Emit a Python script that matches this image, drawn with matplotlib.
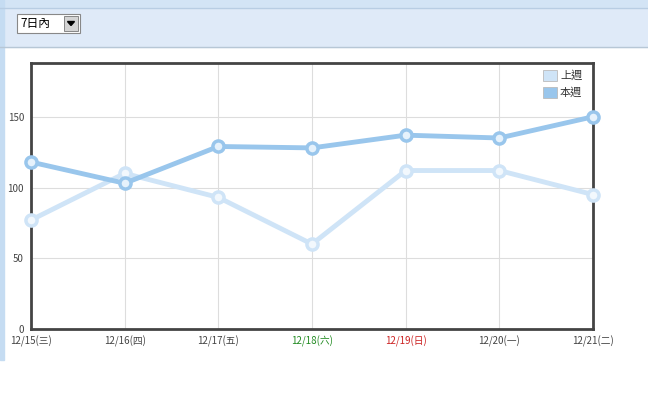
import matplotlib
matplotlib.use("Agg")
import matplotlib.pyplot as plt
from matplotlib.patches import Rectangle, Polygon
from matplotlib.lines import Line2D

plt.rcParams['font.family'] = ['Noto Sans CJK TC', 'DejaVu Sans']

categories = ['12/15(三)', '12/16(四)', '12/17(五)', '12/18(六)', '12/19(日)', '12/20(一)', '12/21(二)']
last_week = [77, 110, 93, 60, 112, 112, 95]
this_week = [118, 103, 129, 128, 137, 135, 150]
series_names = ['上週', '本週']
yticks = [0, 50, 100, 150]
label_colors = ['#444444', '#444444', '#444444', '#228B22', '#cc2222', '#444444', '#444444']

W, H = 648, 400
fig = plt.figure(figsize=(W / 100, H / 100), dpi=100)
fig.patch.set_facecolor('white')

def fx(px):
    return px / W

def fy(py):
    return 1 - py / H

# page decoration
fig.patches.append(Rectangle((0, fy(8)), 1, 8 / H, transform=fig.transFigure, color='#d3e4f5', zorder=0))
fig.patches.append(Rectangle((0, fy(47)), 1, 39 / H, transform=fig.transFigure, color='#dfeaf8', zorder=0))
fig.lines.append(Line2D([0, 1], [fy(8), fy(8)], transform=fig.transFigure, color='#b8cde3', lw=1))
fig.lines.append(Line2D([0, 1], [fy(47), fy(47)], transform=fig.transFigure, color='#b7c7d6', lw=1))
fig.patches.append(Rectangle((0, fy(360)), 4 / W, 360 / H, transform=fig.transFigure, color='#c5dcf2', zorder=1))

# dropdown
fig.patches.append(Rectangle((fx(17), fy(33)), 63 / W, 19 / H, transform=fig.transFigure,
                             facecolor='white', edgecolor='#888888', lw=0.8, zorder=2))
fig.patches.append(Rectangle((fx(64), fy(31)), 14 / W, 15 / H, transform=fig.transFigure,
                             facecolor='#d4d4d4', edgecolor='#777777', lw=0.6, zorder=3))
fig.patches.append(Polygon([(fx(67.5), fy(21.5)), (fx(74.5), fy(21.5)), (fx(71), fy(25.5))],
                           closed=True, transform=fig.transFigure, color='black', zorder=4))
fig.text(fx(20), fy(23.5), '7日內', fontsize=8.5, va='center', ha='left', color='black')

ax = fig.add_axes([fx(31), fy(329), (593 - 31) / W, (329 - 63) / H])
x = list(range(len(categories)))
ax.set_xlim(0, len(categories) - 1)
ax.set_ylim(0, 188)

ax.plot(x, last_week, color='#cfe4f7', lw=3.5, marker='o', markersize=8,
        markerfacecolor='#f2f8fd', markeredgecolor='#cfe4f7', markeredgewidth=2.5,
        solid_capstyle='round', zorder=3, clip_on=False)
ax.plot(x, this_week, color='#99c6ec', lw=3.5, marker='o', markersize=8,
        markerfacecolor='#e6f2fc', markeredgecolor='#99c6ec', markeredgewidth=2.5,
        solid_capstyle='round', zorder=4, clip_on=False)

ax.set_xticks(x)
ax.set_xticklabels(categories, fontsize=7)
for lbl, c in zip(ax.get_xticklabels(), label_colors):
    lbl.set_color(c)
ax.set_yticks(yticks)
ax.set_yticklabels([str(v) for v in yticks], fontsize=7, color='#444444')
ax.tick_params(length=0, pad=5)
ax.grid(True, color='#dddddd', lw=0.8)
ax.set_axisbelow(True)
for s in ax.spines.values():
    s.set_color('#444444')
    s.set_linewidth(2)

# legend
colors = ['#cfe4f7', '#99c6ec']
for i, (name, c) in enumerate(zip(series_names, colors)):
    top = 70 + i * 17
    fig.patches.append(Rectangle((fx(543), fy(top + 11)), 14 / W, 11 / H, transform=fig.transFigure,
                                 facecolor=c, edgecolor='#bbbbbb', lw=0.6, zorder=5))
    fig.text(fx(560), fy(top + 5.5), name, fontsize=8, va='center', ha='left', color='#333333', zorder=6)

fig.savefig('out.png', dpi=100)
